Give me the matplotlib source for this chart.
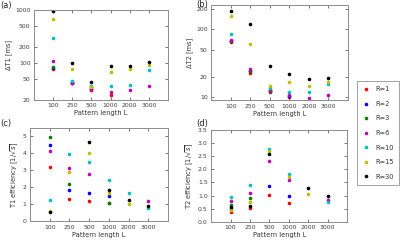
import numpy as np
import matplotlib
matplotlib.use("Agg")
import matplotlib.pyplot as plt
from matplotlib.ticker import FixedLocator, FixedFormatter, NullLocator

nan = np.nan
lengths = ["100", "250", "500", "1000", "2000", "3000"]
series = ["R=1", "R=2", "R=3", "R=6", "R=10", "R=15", "R=30"]
colors = ["r", "b", "g", "m", "c", "y", "k"]

dT1 = [
    [77, 41, 31, 24.5, nan, nan],
    [79, 41, 32, nan, nan, nan],
    [82, 43, 34, nan, nan, nan],
    [110, 42, 32, 27.5, 30, 37],
    [298, 45, 36.5, 37, 38.6, 72],
    [674, 75.5, 35, 67, 77.6, 90],
    [944, 98, 43.3, 85, 88, 104],
]
dT2 = [
    [65, 23, 11.8, 10.2, nan, nan],
    [66, 24, 12.3, 10.5, nan, nan],
    [66, 24.5, 12.5, nan, nan, nan],
    [68, 26, 12.8, 10.8, 9.7, 10.8],
    [86, nan, 13.5, 11.9, 11.8, 15.6],
    [157, 60.7, 14.6, 16.7, 14.6, 16.5],
    [186, 118, 29, 21.8, 18.4, 19],
]
effT1 = [
    [3.16, 1.29, 1.16, 1.06, nan, nan],
    [4.47, 1.82, 1.63, 1.47, nan, nan],
    [4.96, 2.2, nan, 1.08, nan, nan],
    [4.12, 3.14, 2.8, nan, nan, 1.2],
    [1.22, 3.92, 3.47, 2.39, 1.63, 0.75],
    [0.62, 2.88, 3.98, 1.67, 1.02, nan],
    [0.55, nan, 4.67, 1.82, 1.24, 0.86],
]
effT2 = [
    [0.36, 0.51, 1.01, 0.71, nan, nan],
    [0.5, nan, 1.37, 0.97, nan, nan],
    [0.63, 0.89, nan, nan, nan, nan],
    [0.79, 1.11, 2.32, 1.59, nan, 0.82],
    [0.93, 1.39, 2.77, 1.83, nan, 0.75],
    [0.46, 0.75, 2.7, 1.72, 1.07, nan],
    [0.56, 0.6, 2.6, nan, 1.29, 0.98],
]

fig = plt.figure(figsize=(4.0, 2.4), dpi=100)
fs = 4.4
x = np.arange(1, len(lengths) + 1)

def style(ax, ylabel):
    ax.set_xlim(0, 7)
    ax.set_xticks(x)
    ax.set_xticklabels(lengths)
    ax.set_xlabel("Pattern length L", fontsize=fs + 0.4, labelpad=1.5, color="0.2")
    ax.set_ylabel(ylabel, fontsize=fs + 0.4, labelpad=2, color="0.2")
    ax.tick_params(direction="in", length=2.2, width=0.5, labelsize=fs,
                   top=True, right=True, pad=2.5, colors="0.25")
    ax.tick_params(which="minor", length=0)
    for s in ax.spines.values():
        s.set_color("0.55")
        s.set_linewidth(0.7)

def draw(ax, data):
    handles = []
    for vals, c, lab in zip(data, colors, series):
        h, = ax.plot(x, vals, "o", color=c, ms=2.6, mew=0, label=lab)
        handles.append(h)
    return handles

axa = fig.add_axes([0.085, 0.585, 0.335, 0.373])
draw(axa, dT1)
axa.set_yscale("log")
axa.set_ylim(20, 1000)
axa.yaxis.set_major_locator(FixedLocator([20, 50, 100, 200, 500, 1000]))
axa.yaxis.set_major_formatter(FixedFormatter(["20", "50", "100", "200", "500", "1000"]))
axa.yaxis.set_minor_locator(NullLocator())
style(axa, "ΔT1 [ms]")

axb = fig.add_axes([0.528, 0.583, 0.342, 0.396])
handles = draw(axb, dT2)
axb.set_yscale("log")
axb.set_ylim(9.1, 225)
axb.yaxis.set_major_locator(FixedLocator([10, 20, 50, 100, 200]))
axb.yaxis.set_major_formatter(FixedFormatter(["10", "20", "50", "100", "200"]))
axb.yaxis.set_minor_locator(NullLocator())
style(axb, "ΔT2 [ms]")

axc = fig.add_axes([0.075, 0.079, 0.345, 0.389])
draw(axc, effT1)
axc.set_ylim(0, 5.5)
axc.set_yticks([0, 1, 2, 3, 4, 5])
style(axc, r"T1 efficiency [1/$\sqrt{s}$]")

axd = fig.add_axes([0.528, 0.076, 0.34, 0.382])
draw(axd, effT2)
axd.set_ylim(0, 3.5)
axd.set_yticks([0, 0.5, 1.0, 1.5, 2.0, 2.5, 3.0, 3.5])
axd.set_yticklabels(["0.0", "0.5", "1.0", "1.5", "2.0", "2.5", "3.0", "3.5"])
style(axd, r"T2 efficiency [1/$\sqrt{s}$]")

leg = fig.legend(handles=handles, labels=series, loc="upper left",
                 bbox_to_anchor=(0.884, 0.676), fontsize=fs + 0.4,
                 numpoints=1, handlelength=1.0, handletextpad=1.0,
                 labelspacing=1.28, borderpad=0.8, fancybox=False,
                 frameon=True)
leg.get_frame().set_edgecolor("0.55")
leg.get_frame().set_linewidth(0.7)
for t in leg.get_texts():
    t.set_color("0.2")

for tx, ty, lab in [(0.0, 0.995, "(a)"), (0.49, 0.998, "(b)"),
                    (0.0, 0.505, "(c)"), (0.49, 0.505, "(d)")]:
    fig.text(tx, ty, lab, fontsize=6, va="top", ha="left", color="0.15")

fig.savefig("out.png", dpi=100)
